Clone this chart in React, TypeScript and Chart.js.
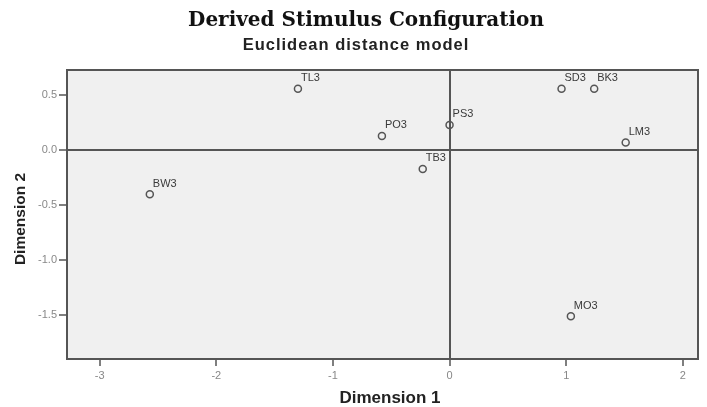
import React, { useEffect, useRef } from "react";
import { Chart, registerables } from "chart.js";

Chart.register(...registerables);

const pointLabels = ["TL3", "PO3", "PS3", "TB3", "SD3", "BK3", "LM3", "BW3", "MO3"];
const dim1Values = [-1.3, -0.58, 0.0, -0.23, 0.96, 1.24, 1.51, -2.57, 1.04];
const dim2Values = [0.56, 0.13, 0.23, -0.17, 0.56, 0.56, 0.07, -0.4, -1.51];
const xTickValues = [-3, -2, -1, 0, 1, 2];
const yTickValues = [-1.5, -1.0, -0.5, 0.0, 0.5];

const titleText = "Derived Stimulus Configuration";
const subtitleText = "Euclidean distance model";
const xAxisTitle = "Dimension 1";
const yAxisTitle = "Dimension 2";

const FRAME = "#555555";

const decorPlugin = {
  id: "decor",
  beforeDraw(chart: any) {
    const { ctx, chartArea: a } = chart;
    ctx.save();
    ctx.fillStyle = "#ffffff";
    ctx.fillRect(0, 0, chart.width, chart.height);
    ctx.fillStyle = "#f0f0f0";
    ctx.fillRect(a.left, a.top, a.right - a.left, a.bottom - a.top);
    ctx.restore();
  },
  afterDraw(chart: any) {
    const { ctx, chartArea: a } = chart;
    ctx.save();
    ctx.strokeStyle = FRAME;
    ctx.lineWidth = 2;
    ctx.strokeRect(a.left, a.top, a.right - a.left, a.bottom - a.top);

    ctx.textAlign = "center";
    ctx.textBaseline = "alphabetic";
    ctx.fillStyle = "#111111";
    ctx.font = "bold 20px 'DejaVu Serif'";
    ctx.fillText(titleText, 366, 26);

    ctx.fillStyle = "#222222";
    ctx.font = "bold 16.5px 'Liberation Sans', Arial, sans-serif";
    (ctx as any).letterSpacing = "1px";
    ctx.fillText(subtitleText, 356, 50);
    (ctx as any).letterSpacing = "0px";

    ctx.font = "bold 17px 'Liberation Sans', Arial, sans-serif";
    ctx.fillText(xAxisTitle, 390, 403);

    ctx.translate(21, 219);
    ctx.rotate(-Math.PI / 2);
    ctx.textBaseline = "middle";
    ctx.font = "bold 15.5px 'Liberation Sans', Arial, sans-serif";
    ctx.fillText(yAxisTitle, 0, 0);
    ctx.restore();
  },
  afterDatasetsDraw(chart: any) {
    const { ctx } = chart;
    const meta = chart.getDatasetMeta(0);
    ctx.save();
    ctx.font = "11px 'Liberation Sans', Arial, sans-serif";
    ctx.fillStyle = "#3a3a3a";
    ctx.textAlign = "left";
    ctx.textBaseline = "bottom";
    meta.data.forEach((pt: any, i: number) => {
      ctx.fillText(pointLabels[i], pt.x + 3, pt.y - 5);
    });
    ctx.restore();
  },
};

export default function App() {
  const ref = useRef<HTMLCanvasElement | null>(null);

  useEffect(() => {
    document.body.style.margin = "0";
    if (!ref.current) return;
    const chart = new Chart(ref.current, {
      type: "scatter",
      data: {
        datasets: [
          {
            label: "Stimuli",
            data: dim1Values.map((x, i) => ({ x, y: dim2Values[i] })),
            pointStyle: "circle",
            pointRadius: 3.5,
            pointHoverRadius: 3.5,
            pointBorderWidth: 1.5,
            borderColor: "#555555",
            backgroundColor: "rgba(0,0,0,0)",
          },
        ],
      },
      options: {
        animation: false,
        responsive: false,
        events: [],
        layout: { padding: { top: 70, right: 9, left: 0, bottom: 0 } },
        plugins: {
          legend: { display: false },
          tooltip: { enabled: false },
          title: { display: false },
        },
        scales: {
          x: {
            type: "linear",
            min: -3.28,
            max: 2.13,
            afterFit(scale: any) {
              scale.height = 48;
            },
            afterBuildTicks(scale: any) {
              scale.ticks = xTickValues.map((v) => ({ value: v }));
            },
            ticks: {
              color: "#888888",
              font: { size: 11, family: "'Liberation Sans', Arial, sans-serif" },
              padding: 3,
              callback: (v: any) => String(v),
              maxRotation: 0,
            },
            grid: {
              drawOnChartArea: true,
              color: (c: any) => (c.tick && c.tick.value === 0 ? FRAME : "rgba(0,0,0,0)"),
              lineWidth: 2,
              tickColor: FRAME,
              tickWidth: 1.5,
              tickLength: 7,
            },
            border: { display: true, color: FRAME, width: 2 },
          },
          y: {
            type: "linear",
            min: -1.9,
            max: 0.73,
            afterFit(scale: any) {
              scale.width = 67;
            },
            afterBuildTicks(scale: any) {
              scale.ticks = yTickValues.map((v) => ({ value: v }));
            },
            ticks: {
              color: "#888888",
              font: { size: 11, family: "'Liberation Sans', Arial, sans-serif" },
              padding: 2,
              callback: (v: any) => Number(v).toFixed(1),
            },
            grid: {
              drawOnChartArea: true,
              color: (c: any) => (c.tick && c.tick.value === 0 ? FRAME : "rgba(0,0,0,0)"),
              lineWidth: 2,
              tickColor: FRAME,
              tickWidth: 1.5,
              tickLength: 8,
            },
            border: { display: true, color: FRAME, width: 2 },
          },
        },
      },
      plugins: [decorPlugin],
    });
    return () => chart.destroy();
  }, []);

  return (
    <div style={{ width: 707, height: 407 }}>
      <canvas ref={ref} width={707} height={407} style={{ display: "block" }} />
    </div>
  );
}
